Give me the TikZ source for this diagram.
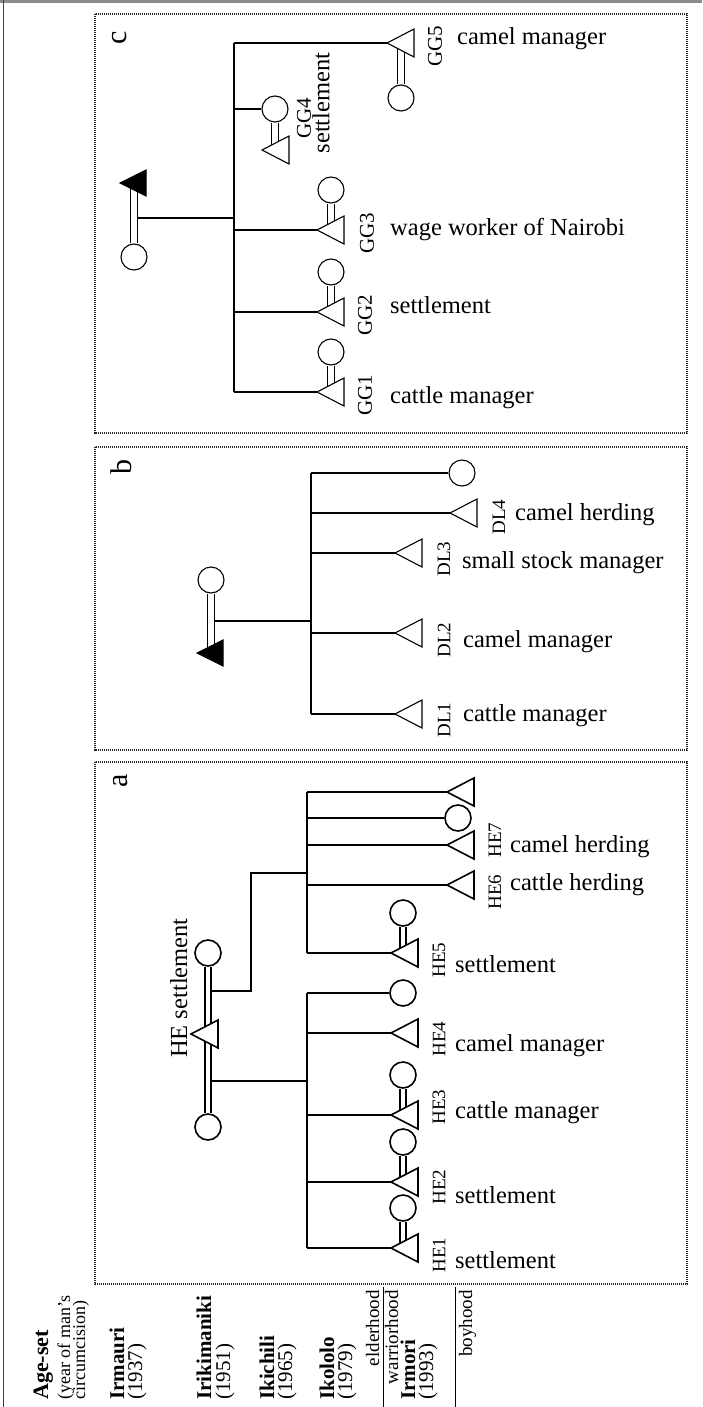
\documentclass[tikz,border=0pt]{standalone}
\usepackage{fontspec}
\setmainfont{Liberation Serif}
\begin{document}
\begin{tikzpicture}[x=1pt,y=-1pt,
  fem/.style={circle,draw,fill=white,minimum size=26pt,inner sep=0pt},
  dbl/.style={double distance=5pt},
  box/.style={draw=black!85,line width=1.6pt,dash pattern=on 1.1pt off 0.9pt},
  lab/.style={font=\fontsize{24.5}{26}\selectfont,inner sep=0pt,anchor=base west},
  rlab/.style={font=\fontsize{24.5}{26}\selectfont,inner sep=0pt,rotate=90},
  idl/.style={font=\fontsize{19}{20}\selectfont,inner sep=0pt,rotate=90,anchor=center},
  gid/.style={idl,font=\fontsize{21}{22}\selectfont},
  pl/.style={font=\fontsize{30}{30}\selectfont,inner sep=0pt,rotate=90,anchor=center},
  leg/.style={inner sep=0pt,rotate=90,anchor=base west},
  legname/.style={leg,font=\bfseries\fontsize{21}{21}\selectfont},
  legyear/.style={leg,font=\fontsize{21}{21}\selectfont},
  legsub/.style={leg,font=\fontsize{18}{18}\selectfont},
  stage/.style={inner sep=0pt,rotate=90,anchor=base east,font=\fontsize{19}{19}\selectfont},
  tri/.pic={\draw[fill=white] (0,0) -- (27,-14) -- (27,14) -- cycle;},
  dtri/.pic={\filldraw[fill=black] (0,0) -- (26,-13) -- (26,13) -- cycle;},
]
\useasboundingbox (0,0) rectangle (702,1407);

% frame
\coordinate (ftl) at (0,1.3); \coordinate (ftr) at (702,1.3);
\draw[black!45,line width=2.7pt] (ftl) -- (ftr);
\coordinate (flt) at (3.3,0); \coordinate (flb) at (3.3,1407);
\draw[black!75,line width=1.3pt] (flt) -- (flb);

% panel boxes
\draw[box] (95,14) rectangle (687,433);
\draw[box] (95,447) rectangle (687,750);
\draw[box] (95,762) rectangle (687,1284);
\node[pl] (lc) at (120,38) {c};
\node[pl] (lb) at (121,467) {b};
\node[pl] (la) at (121,781) {a};

% ---------------- panel a ----------------
\begin{scope}[line width=1.6pt]
\node[fem] (aw1) at (208,1127) {};
\node[fem] (aw2) at (208,953) {};
\coordinate (he) at (191,1034);
\node[fem] (hw1) at (403,1208) {};
\node[fem] (hw2) at (403,1142) {};
\node[fem] (hw3) at (403,1075) {};
\node[fem] (ad1) at (403,993) {};
\node[fem] (hw5) at (403,913) {};
\node[fem] (ad2) at (458,818) {};
\coordinate (he1) at (391,1248);
\coordinate (he2) at (391,1182);
\coordinate (he3) at (391,1115);
\coordinate (he4) at (391,1033);
\coordinate (he5) at (391,953);
\coordinate (he6) at (447,885);
\coordinate (he7) at (447,845);
\coordinate (he8) at (447,792);
\coordinate (a1j) at (208,1081);
\coordinate (a1b) at (307,1081);
\coordinate (a2j) at (208,991);
\coordinate (a2k) at (251,991);
\coordinate (a2b) at (307,873);
\draw (a1j) -- (a1b);
\draw (a1b |- ad1) -- (a1b |- he1);
\foreach \c in {he1,he2,he3,he4} \draw (a1b |- \c) -- (\c);
\draw (a1b |- ad1) -- (ad1);
\draw (a2j) -- (a2k) -- (a2k |- a2b) -- (a2b);
\draw (a2b |- he8) -- (a2b |- he5);
\foreach \c in {he5,he6,he7,he8} \draw (a2b |- \c) -- (\c);
\draw (a2b |- ad2) -- (ad2);
\draw[dbl,line width=1.5pt,double distance=4.8pt] (aw1) -- (aw2);
\draw[dbl,line width=1.5pt,double distance=4.8pt] (hw1) -- (hw1 |- he1);
\draw[dbl,line width=1.5pt,double distance=4.8pt] (hw2) -- (hw2 |- he2);
\draw[dbl,line width=1.5pt,double distance=4.8pt] (hw3) -- (hw3 |- he3);
\draw[dbl,line width=1.5pt,double distance=4.8pt] (hw5) -- (hw5 |- he5);
\foreach \c in {he,he1,he2,he3,he4,he5,he6,he7,he8} \pic at (\c) {tri};
\end{scope}
\node[rlab,anchor=base west] (heL) at (187,1058) {HE settlement};
\node[idl] (he1L) at (439,1255) {HE1};
\node[idl] (he2L) at (439,1187) {HE2};
\node[idl] (he3L) at (439,1107) {HE3};
\node[idl] (he4L) at (439,1039) {HE4};
\node[idl] (he5L) at (439,960) {HE5};
\node[idl] (he6L) at (495,892) {HE6};
\node[idl] (he7L) at (495,840) {HE7};
\node[lab] (he1T) at (455,1268) {settlement};
\node[lab] (he2T) at (455,1203) {settlement};
\node[lab] (he3T) at (455,1118) {cattle manager};
\node[lab] (he4T) at (455,1051) {camel manager};
\node[lab] (he5T) at (455,972) {settlement};
\node[lab] (he6T) at (510,890) {cattle herding};
\node[lab] (he7T) at (510,852) {camel herding};

% ---------------- panel b ----------------
\begin{scope}[line width=1.1pt]
\node[fem] (bw) at (211,580) {};
\coordinate (dl0) at (197,653);
\coordinate (bj) at (211,621);
\coordinate (bb) at (311,621);
\coordinate (dl1) at (395,714);
\coordinate (dl2) at (395,633);
\coordinate (dl3) at (395,553);
\coordinate (dl4) at (450,513);
\node[fem] (bd) at (462,473) {};
\draw (bj) -- (bb);
\draw (bb |- bd) -- (bb |- dl1);
\foreach \c in {dl1,dl2,dl3,dl4} \draw (bb |- \c) -- (\c);
\draw (bb |- bd) -- (bd);
\draw[dbl,double distance=5.8pt] (bw) -- (bw |- dl0);
\pic at (dl0) {dtri};
\foreach \c in {dl1,dl2,dl3,dl4} \pic at (\c) {tri};
\end{scope}
\node[idl] (dl1L) at (444,720) {DL1};
\node[idl] (dl2L) at (444,640) {DL2};
\node[idl] (dl3L) at (444,559) {DL3};
\node[idl] (dl4L) at (499,517) {DL4};
\node[lab] (dl1T) at (463,721) {cattle manager};
\node[lab] (dl2T) at (463,647) {camel manager};
\node[lab] (dl3T) at (462,568) {small stock manager};
\node[lab] (dl4T) at (515,520) {camel herding};

% ---------------- panel c ----------------
\begin{scope}[line width=1.1pt]
\node[fem] (cw) at (134,257) {};
\coordinate (gg0) at (120,183);
\coordinate (cj) at (134,218);
\coordinate (cb) at (234,218);
\coordinate (gg1) at (317,392);
\coordinate (gg2) at (317,312);
\coordinate (gg3) at (317,230);
\coordinate (gh4) at (262,150);
\coordinate (gg5) at (387,43);
\node[fem] (gw1) at (331,352) {};
\node[fem] (gw2) at (331,272) {};
\node[fem] (gw3) at (331,190) {};
\node[fem] (gd4) at (275,109) {};
\node[fem] (gw5) at (401,98) {};
\draw (cj) -- (cb);
\draw (cb |- gg5) -- (cb |- gg1);
\foreach \c in {gg1,gg2,gg3,gg5} \draw (cb |- \c) -- (\c);
\draw (cb |- gd4) -- (gd4);
\draw[dbl,double distance=5.8pt] (cw) -- (cw |- gg0);
\draw[dbl,double distance=5.8pt] (gw1) -- (gw1 |- gg1);
\draw[dbl,double distance=5.8pt] (gw2) -- (gw2 |- gg2);
\draw[dbl,double distance=5.8pt] (gw3) -- (gw3 |- gg3);
\draw[dbl,double distance=5.8pt] (gd4) -- (gd4 |- gh4);
\draw[dbl,double distance=5.8pt] (gw5) -- (gw5 |- gg5);
\pic at (gg0) {dtri};
\foreach \c in {gg1,gg2,gg3,gh4,gg5} \pic at (\c) {tri};
\end{scope}
\node[gid] (gg1L) at (365,395) {GG1};
\node[gid] (gg2L) at (365,315) {GG2};
\node[gid] (gg3L) at (367,233) {GG3};
\node[gid] (gg4L) at (304,118) {GG4};
\node[gid] (gg5L) at (435,46) {GG5};
\node[lab] (gg1T) at (390,403) {cattle manager};
\node[lab] (gg2T) at (390,313) {settlement};
\node[lab] (gg3T) at (390,235) {wage worker of Nairobi};
\node[rlab,anchor=center] (gg4T) at (321,103) {settlement};
\node[lab] (gg5T) at (457,45) {camel manager};

% ---------------- legend ----------------
\node[leg,font=\bfseries\fontsize{22}{22}\selectfont] (lg0) at (48,1400) {Age-set};
\node[legsub] (lg1) at (70,1400) {(year of man's};
\node[legsub] (lg2) at (85,1400) {circumcision)};
\node[legname] (g1n) at (124,1400) {Irmauri};
\node[legyear] (g1y) at (142,1400) {(1937)};
\node[legname] (g2n) at (211,1400) {Irikimaniki};
\node[legyear] (g2y) at (230,1400) {(1951)};
\node[legname] (g3n) at (274,1400) {Ikichili};
\node[legyear] (g3y) at (292,1400) {(1965)};
\node[legname] (g4n) at (334,1400) {Ikololo};
\node[legyear] (g4y) at (352,1400) {(1979)};
\node[stage] (st1) at (379,1290) {elderhood};
\coordinate (ln1a) at (383,1287); \coordinate (ln1b) at (383,1407);
\draw[line width=1pt] (ln1a) -- (ln1b);
\node[stage] (st2) at (398,1290) {warriorhood};
\node[legname] (g5n) at (415,1400) {Irmori};
\node[legyear] (g5y) at (433,1400) {(1993)};
\coordinate (ln2a) at (455,1287); \coordinate (ln2b) at (455,1407);
\draw[line width=1pt] (ln2a) -- (ln2b);
\node[stage] (st3) at (472,1290) {boyhood};
\end{tikzpicture}
\end{document}
